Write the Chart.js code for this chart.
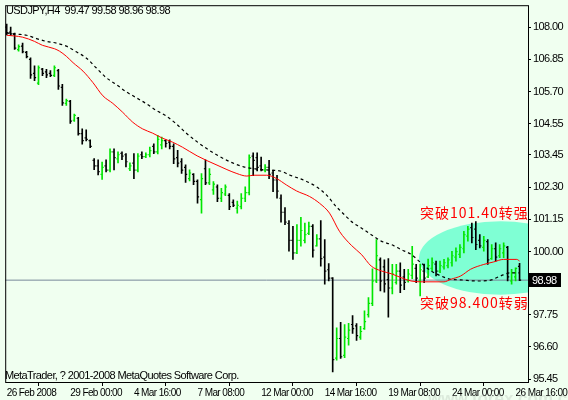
<!DOCTYPE html>
<html>
<head>
<meta charset="utf-8">
<title>USDJPY H4</title>
<script src="https://cdn.jsdelivr.net/npm/chart.js@4.4.1/dist/chart.umd.min.js"></script>
<style>
  html, body { margin: 0; padding: 0; background: #f0fff0; }
</style>
</head>
<body>
<canvas id="chart" width="568" height="400"></canvas>
<script>
// USDJPY H4 bars
const opens = [
  108.00, 107.82, 107.74, 107.20, 107.32, 107.10, 106.85, 106.35, 106.00, 106.50,
  106.40, 106.35, 106.28, 106.45, 105.85, 105.28, 105.35, 104.68, 104.75, 104.20,
  104.05, 103.95, 103.25, 103.05, 102.75, 103.05, 102.90, 103.55, 103.30, 103.50,
  103.45, 102.95, 103.15, 102.90, 103.45, 103.38, 103.45, 103.75, 103.55, 103.80,
  103.95, 103.90, 103.75, 103.35, 103.20, 103.00, 102.60, 102.75, 102.50, 101.85,
  102.95, 102.45, 102.20, 102.30, 101.90, 102.05, 102.00, 101.75, 101.55, 101.60,
  101.90, 102.10, 103.40, 103.35, 103.05, 102.90, 103.00, 102.80, 102.55, 101.90,
  101.40, 101.00, 100.40, 99.95, 100.40, 100.40, 100.65, 100.90, 100.20, 100.45,
  99.80, 99.35, 99.05, 96.20, 96.90, 96.30, 96.90, 97.40, 97.35, 96.95,
  97.25, 97.75, 98.15, 98.95, 99.70, 99.45, 99.00, 98.70, 98.90, 99.30,
  99.10, 98.95, 99.15, 99.40, 98.95, 99.30, 99.10, 99.40, 99.55, 99.30,
  99.45, 99.50, 99.60, 99.80, 99.90, 100.10, 100.55, 100.85, 100.80, 100.40,
  100.15, 100.35, 99.75, 100.10, 99.85, 99.95, 100.15, 98.95, 99.10, 99.47
];
const highs = [
  108.11, 108.00, 107.79, 107.37, 107.43, 107.14, 106.90, 106.62, 106.62, 106.53,
  106.49, 106.45, 106.62, 106.49, 105.96, 105.43, 105.39, 104.90, 104.78, 104.37,
  104.34, 103.98, 103.31, 103.27, 103.19, 103.27, 103.66, 103.66, 103.55, 103.55,
  103.49, 103.16, 103.49, 103.49, 103.55, 103.52, 103.72, 103.84, 104.14, 104.08,
  103.98, 103.98, 103.84, 103.61, 103.31, 103.09, 102.91, 102.78, 102.56, 102.78,
  103.27, 102.96, 102.49, 102.38, 102.25, 102.38, 102.07, 101.84, 101.80, 102.07,
  102.31, 103.45, 103.52, 103.52, 103.37, 103.10, 103.25, 102.90, 102.72, 102.02,
  101.57, 101.10, 100.90, 100.96, 101.22, 101.01, 101.05, 100.96, 100.60, 101.10,
  100.43, 99.57, 99.07, 97.28, 97.48, 97.40, 97.44, 97.72, 97.43, 97.33,
  97.89, 98.36, 99.38, 100.43, 99.78, 99.70, 99.75, 99.54, 99.54, 99.60,
  99.37, 99.37, 100.19, 99.54, 99.55, 99.55, 99.73, 99.78, 99.66, 99.66,
  99.72, 99.78, 100.01, 100.13, 100.25, 100.72, 100.90, 101.01, 101.07, 100.60,
  100.54, 100.43, 100.25, 100.31, 100.25, 100.31, 100.19, 99.37, 99.42, 99.58
];
const lows = [
  107.72, 107.70, 107.20, 107.14, 107.08, 106.90, 106.17, 106.09, 105.95, 106.27,
  106.20, 106.23, 106.23, 105.78, 105.21, 105.21, 104.57, 104.64, 104.15, 103.83,
  103.94, 103.70, 102.92, 102.73, 102.57, 102.84, 102.84, 102.91, 103.16, 103.27,
  103.02, 102.88, 102.60, 102.84, 103.31, 103.35, 103.37, 103.49, 103.48, 103.66,
  103.72, 103.66, 103.13, 103.02, 102.78, 102.46, 102.52, 102.38, 101.72, 101.37,
  102.38, 102.38, 102.04, 101.78, 101.78, 101.99, 101.49, 101.60, 101.37, 101.52,
  101.78, 102.02, 102.70, 102.87, 102.87, 102.84, 102.60, 102.13, 101.90, 101.05,
  100.96, 100.01, 99.72, 99.92, 100.19, 100.31, 100.60, 99.80, 100.19, 99.48,
  98.84, 98.95, 95.71, 96.13, 96.19, 96.22, 96.66, 97.08, 96.83, 96.87,
  97.22, 97.66, 98.07, 98.89, 98.60, 98.55, 97.66, 98.49, 98.84, 98.53,
  98.64, 98.91, 99.03, 98.89, 98.42, 98.89, 99.07, 99.31, 99.13, 99.25,
  99.37, 99.42, 99.48, 99.66, 99.78, 99.95, 100.37, 100.31, 100.07, 100.13,
  100.01, 99.54, 99.72, 99.66, 99.78, 99.78, 98.95, 98.84, 98.95, 98.96
];
const closes = [
  107.80, 107.76, 107.25, 107.30, 107.12, 106.95, 106.30, 106.20, 106.55, 106.35,
  106.30, 106.28, 106.55, 105.90, 105.30, 105.38, 104.65, 104.85, 104.20, 103.95,
  104.00, 103.75, 103.05, 102.85, 103.00, 102.90, 103.55, 103.35, 103.45, 103.40,
  103.20, 103.05, 102.90, 103.40, 103.38, 103.45, 103.60, 103.55, 104.00, 103.95,
  103.85, 103.75, 103.30, 103.15, 102.90, 102.75, 102.80, 102.50, 101.95, 102.60,
  102.45, 102.75, 102.40, 101.90, 102.10, 102.30, 101.60, 101.65, 101.65, 101.90,
  102.10, 103.35, 103.25, 103.00, 102.90, 103.00, 102.75, 102.55, 102.15, 101.40,
  101.05, 100.40, 99.95, 100.40, 100.75, 100.60, 100.90, 100.05, 100.45, 99.75,
  99.30, 99.05, 96.15, 96.90, 96.25, 96.95, 97.20, 97.25, 97.00, 97.15,
  97.50, 98.15, 98.95, 99.85, 98.95, 98.85, 98.70, 99.20, 99.30, 98.80,
  98.90, 99.20, 99.55, 99.05, 99.35, 99.05, 99.50, 99.60, 99.30, 99.50,
  99.60, 99.70, 99.85, 100.00, 100.15, 100.60, 100.80, 100.50, 100.25, 100.20,
  100.40, 99.70, 100.10, 99.80, 100.10, 100.20, 99.10, 99.25, 99.40, 98.98
];

// moving averages, sampled along the bars (bar index, price)
const fastMaBars = [0, 4, 7, 9, 12, 13.3, 15, 16.7, 19.2, 21.7, 24.2, 26.7, 29.2, 31.7, 34.2, 36.7, 39.2, 41.7, 44.2,
  47.9, 52.9, 57.9, 60.4, 62.1, 65.4, 67.9, 70.4, 72.9, 76.2, 78.7, 81.2, 83.7, 86.7, 89.2, 91.7, 94.2, 96.7, 99.2,
  101.7, 104.2, 110, 111.7, 114.2, 116.7, 120, 122.5, 125, 128.3, 129];
const fastMaValues = [107.71, 107.64, 107.49, 107.35, 107.23, 107.14, 106.96, 106.73, 106.43, 106.02, 105.55, 105.28,
  104.96, 104.61, 104.37, 104.22, 104.04, 103.90, 103.72, 103.41, 103.08, 102.78, 102.69, 102.72, 102.72, 102.60,
  102.37, 102.16, 101.96, 101.72, 101.37, 100.72, 100.22, 99.90, 99.48, 99.31, 99.21, 99.07, 98.95, 98.92, 98.92,
  99.01, 99.13, 99.37, 99.54, 99.63, 99.72, 99.72, 99.66];
const slowMaBars = [0, 2.5, 5, 7.5, 10, 12.5, 15, 17.5, 20, 22.5, 25, 27.5, 30, 32.5, 35, 37.5, 40, 42.5, 45.4,
  50.4, 55.4, 59.6, 62.9, 66.2, 68.8, 71.3, 74.6, 77.9, 80.4, 82.9, 85.4, 86.7, 89.2, 91.7, 94.2, 96.7, 99.2, 101.7,
  104.2, 106.7, 109.2, 111.7, 114.2, 118.3, 121.7, 124.2, 126.7, 129];
const slowMaValues = [107.79, 107.75, 107.71, 107.59, 107.49, 107.43, 107.32, 107.12, 106.90, 106.55, 106.20, 105.96,
  105.70, 105.49, 105.28, 105.04, 104.84, 104.57, 104.19, 103.66, 103.25, 103.02, 102.94, 102.90, 102.87, 102.72,
  102.55, 102.31, 102.02, 101.60, 101.25, 101.07, 100.84, 100.60, 100.37, 100.25, 100.07, 99.90, 99.60, 99.31, 99.13,
  99.01, 98.99, 98.95, 98.98, 99.13, 99.24, 99.24];

// axes
const yTicks = [108.00, 106.85, 105.70, 104.55, 103.45, 102.30, 101.15, 100.00, 98.85, 97.75, 96.60, 95.45];
const xTickBars = [0, 16, 32, 48, 64, 80, 96, 112, 128];
const xTickLabels = ['26 Feb 2008', '29 Feb 00:00', '4 Mar 16:00', '7 Mar 08:00', '12 Mar 00:00',
  '14 Mar 16:00', '19 Mar 08:00', '24 Mar 00:00', '26 Mar 16:00'];
const xMin = -0.375, xMax = 131.125;
const yMin = 95.35, yMax = 108.78;

// highlighted zone and notes
const zoneCenter = [124.2, 99.77];
const zoneRadius = [20.5, 1.31];
const noteUp = '突破101.40转强';
const noteDown = '突破98.400转弱';

const lastClose = closes[closes.length - 1];
const FONT = "'Liberation Sans', Arial, sans-serif";
const TIGHT = '-0.6px';
const UP = '#00e600', DOWN = '#000000';

const barColors = closes.map((c, i) => c >= opens[i] ? UP : DOWN);

// tighter text so the labels come out as narrow as the terminal font
const spacingPlugin = {
  id: 'spacing',
  beforeUpdate(chart) { chart.ctx.letterSpacing = TIGHT; },
  beforeDraw(chart) { chart.ctx.letterSpacing = TIGHT; }
};

const zonePlugin = {
  id: 'zone',
  beforeDatasetsDraw(chart) {
    const {ctx, chartArea: a, scales: {x, y}} = chart;
    const cx = x.getPixelForValue(zoneCenter[0]);
    const cy = y.getPixelForValue(zoneCenter[1]);
    const rx = x.getPixelForValue(zoneCenter[0] + zoneRadius[0]) - cx;
    const ry = cy - y.getPixelForValue(zoneCenter[1] + zoneRadius[1]);
    ctx.save();
    ctx.beginPath();
    ctx.rect(a.left, a.top, a.right - a.left, a.bottom - a.top);
    ctx.clip();
    ctx.fillStyle = '#7fffd4';
    ctx.beginPath();
    ctx.ellipse(cx, cy, rx, ry, 0, 0, Math.PI * 2);
    ctx.fill();
    ctx.restore();
  }
};

const decorPlugin = {
  id: 'decor',
  afterDraw(chart) {
    const {ctx, chartArea: a, scales: {y}} = chart;
    ctx.save();
    // frame
    ctx.strokeStyle = '#000';
    ctx.lineWidth = 1;
    ctx.strokeRect(a.left + 0.5, a.top + 0.5, a.right - a.left, a.bottom - a.top);

    ctx.fillStyle = '#000';
    ctx.font = '11px ' + FONT;
    ctx.textBaseline = 'alphabetic';
    ctx.fillText('USDJPY,H4  99.47 99.58 98.96 98.98', 6, 14);
    ctx.fillText('MetaTrader, ? 2001-2008 MetaQuotes Software Corp.', 5, 379);

    // last price box
    const py = Math.round(y.getPixelForValue(lastClose));
    ctx.fillStyle = '#000';
    ctx.fillRect(a.right + 1, py - 7, 32, 14);
    ctx.fillStyle = '#fff';
    ctx.textBaseline = 'middle';
    ctx.fillText(lastClose.toFixed(2), a.right + 4, py + 1);

    // notes
    ctx.fillStyle = '#ff0000';
    ctx.font = "14px 'Noto Sans CJK SC'";
    ctx.letterSpacing = '1px';
    ctx.fillText(noteUp, 420, 213);
    ctx.fillText(noteDown, 420, 303);

    // watermark
    ctx.letterSpacing = '0px';
    ctx.fillStyle = 'rgba(160,170,160,0.25)';
    ctx.font = "bold 17px 'Liberation Sans', sans-serif";
    ctx.textBaseline = 'alphabetic';
    ctx.fillText('www.forex.com.cn', 428, 404);
    ctx.restore();
  }
};

new Chart(document.getElementById('chart'), {
  type: 'bar',
  data: {
    datasets: [
      {
        type: 'line',
        label: 'MA fast',
        data: fastMaBars.map((b, i) => ({x: b, y: fastMaValues[i]})),
        borderColor: '#ff0000',
        borderWidth: 1,
        pointRadius: 0,
        cubicInterpolationMode: 'monotone',
        order: 1
      },
      {
        type: 'line',
        label: 'MA slow',
        data: slowMaBars.map((b, i) => ({x: b, y: slowMaValues[i]})),
        borderColor: '#000000',
        borderWidth: 1.2,
        borderDash: [3, 3],
        pointRadius: 0,
        cubicInterpolationMode: 'monotone',
        order: 2
      },
      {
        type: 'scatter',
        label: 'open',
        data: opens.map((o, i) => ({x: i - 0.25, y: o})),
        pointStyle: 'line',
        pointRadius: 0.6,
        pointBorderWidth: 1.2,
        pointBorderColor: barColors,
        order: 3
      },
      {
        type: 'scatter',
        label: 'close',
        data: closes.map((c, i) => ({x: i + 0.25, y: c})),
        pointStyle: 'line',
        pointRadius: 0.6,
        pointBorderWidth: 1.2,
        pointBorderColor: barColors,
        order: 3
      },
      {
        type: 'bar',
        label: 'range',
        data: highs.map((h, i) => ({x: i, y: [lows[i], h]})),
        backgroundColor: barColors,
        barThickness: 1,
        borderWidth: 0,
        order: 4
      },
      {
        type: 'line',
        label: 'bid',
        data: [{x: xMin, y: lastClose}, {x: xMax, y: lastClose}],
        borderColor: '#778899',
        borderWidth: 1,
        pointRadius: 0,
        order: 5
      }
    ]
  },
  options: {
    responsive: false,
    animation: false,
    events: [],
    layout: { padding: { left: 2, top: 2, right: 0, bottom: 0 } },
    plugins: {
      legend: { display: false },
      tooltip: { enabled: false },
      title: { display: false }
    },
    scales: {
      x: {
        type: 'linear',
        min: xMin,
        max: xMax,
        offset: false,
        afterBuildTicks: s => { s.ticks = xTickBars.map(v => ({value: v})); },
        afterFit: s => { s.height = 18; s.paddingLeft = 0; s.paddingRight = 0; },
        ticks: {
          autoSkip: false,
          maxRotation: 0,
          minRotation: 0,
          align: 'start',
          padding: 1,
          color: '#000',
          font: { family: FONT, size: 10 },
          callback: (v, i) => xTickLabels[i]
        },
        grid: { drawOnChartArea: false, tickLength: 4, color: '#000' },
        border: { display: false }
      },
      y: {
        position: 'right',
        min: yMin,
        max: yMax,
        afterBuildTicks: s => { s.ticks = yTicks.map(v => ({value: v})); },
        afterFit: s => { s.width = 40; s.paddingTop = 0; s.paddingBottom = 0; },
        ticks: {
          autoSkip: false,
          padding: 2,
          color: '#000',
          font: { family: FONT, size: 11 },
          callback: v => v.toFixed(2)
        },
        grid: { drawOnChartArea: false, tickLength: 3, color: '#000' },
        border: { display: false }
      }
    }
  },
  plugins: [spacingPlugin, zonePlugin, decorPlugin]
});
</script>
</body>
</html>
